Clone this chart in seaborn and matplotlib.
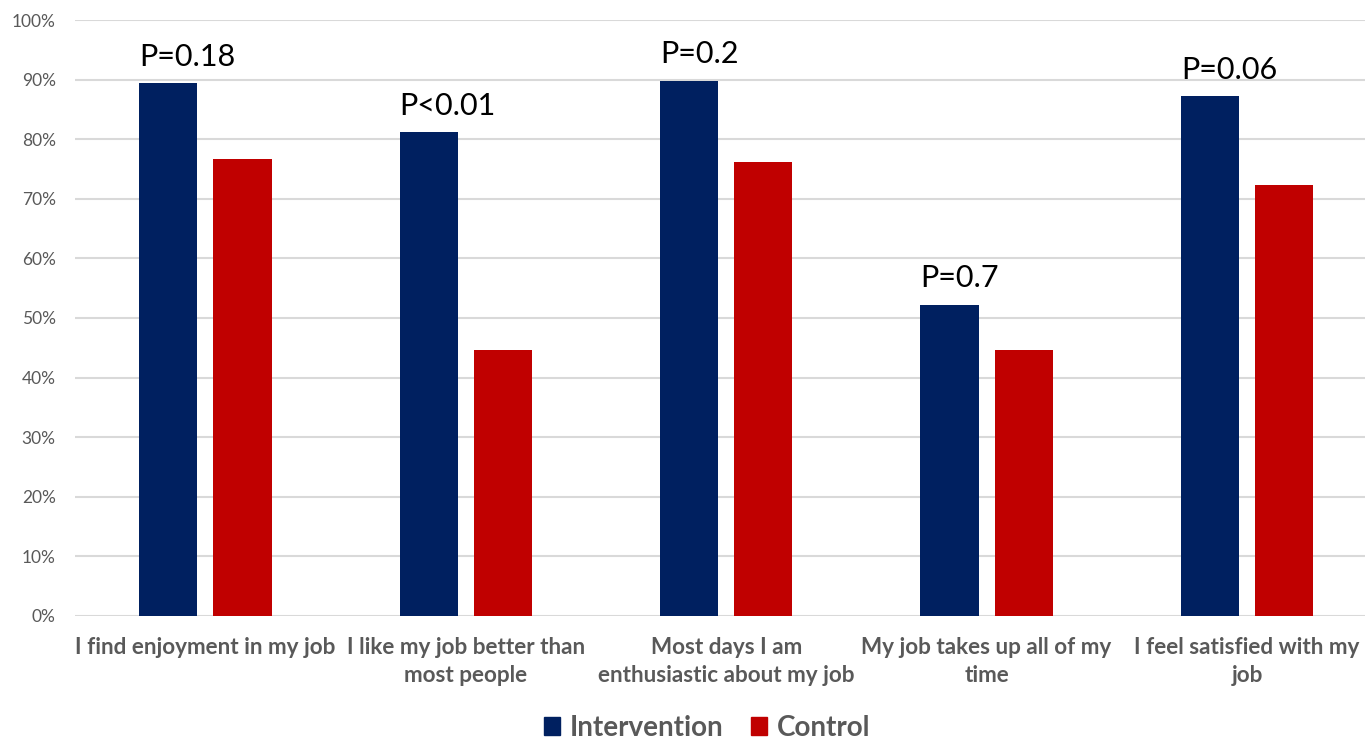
import matplotlib
matplotlib.use("Agg")
import matplotlib.pyplot as plt
import seaborn as sns
import pandas as pd
from matplotlib.patches import Patch

# Survey items and share of respondents agreeing, by group
categories = [
    "I find enjoyment in my job",
    "I like my job better than\nmost people",
    "Most days I am\nenthusiastic about my job",
    "My job takes up all of my\ntime",
    "I feel satisfied with my\njob",
]
intervention = [89.4, 81.2, 89.8, 52.2, 87.2]
control = [76.7, 44.6, 76.2, 44.6, 72.3]
p_labels = ["P=0.18", "P<0.01", "P=0.2", "P=0.7", "P=0.06"]
groups = ["Intervention", "Control"]
colors = ["#002060", "#C00000"]
yticks = list(range(0, 101, 10))

df = pd.DataFrame({
    "item": categories * 2,
    "group": [groups[0]] * len(categories) + [groups[1]] * len(categories),
    "value": intervention + control,
})

sns.set_theme(style="white")
plt.rcParams["font.family"] = ["Lato", "DejaVu Sans"]

fig = plt.figure(figsize=(13.65, 7.42), dpi=100)
ax = fig.add_axes([0.055, 0.170, 0.954, 0.803])

sns.barplot(data=df, x="item", y="value", hue="group", order=categories,
            hue_order=groups, palette=colors, width=0.57, gap=0.216,
            saturation=1, ax=ax, legend=False, linewidth=0, errorbar=None)

ax.set_ylim(0, 100)
ax.set_xlim(-0.5, len(categories) - 0.5)
ax.set_yticks(yticks)
ax.set_yticklabels([f"{t}%" for t in yticks])
ax.yaxis.grid(True, color="#d9d9d9", linewidth=1.5)
ax.set_axisbelow(True)
for s in ax.spines.values():
    s.set_visible(False)
ax.axhline(0, color="#d9d9d9", linewidth=1.8, zorder=0.5)

ax.tick_params(axis="y", length=0, pad=14, labelsize=12.5, labelcolor="#595959")
ax.tick_params(axis="x", length=0, pad=15, labelcolor="#595959")
for lbl in ax.get_xticklabels():
    lbl.set_fontsize(16.2)
    lbl.set_fontweight("bold")
    lbl.set_linespacing(1.42)
ax.set_xlabel("")
ax.set_ylabel("")

# P-value annotations above the intervention bars
for bar, txt in zip(ax.containers[0], p_labels):
    ax.annotate(txt, (bar.get_x(), bar.get_height()), xytext=(0, 9),
                textcoords="offset points", ha="left", va="bottom",
                fontsize=22, color="black")

handles = [Patch(facecolor=c, edgecolor=c) for c in colors]
leg = fig.legend(handles, groups, loc="lower center", ncol=2,
                 bbox_to_anchor=(0.518, -0.032), frameon=False,
                 handlelength=0.58, handleheight=0.58, handletextpad=0.35,
                 columnspacing=1.0,
                 prop={"family": ["Lato", "DejaVu Sans"], "weight": "bold", "size": 20})
for t in leg.get_texts():
    t.set_color("#595959")

fig.savefig("out.png", dpi=100)
